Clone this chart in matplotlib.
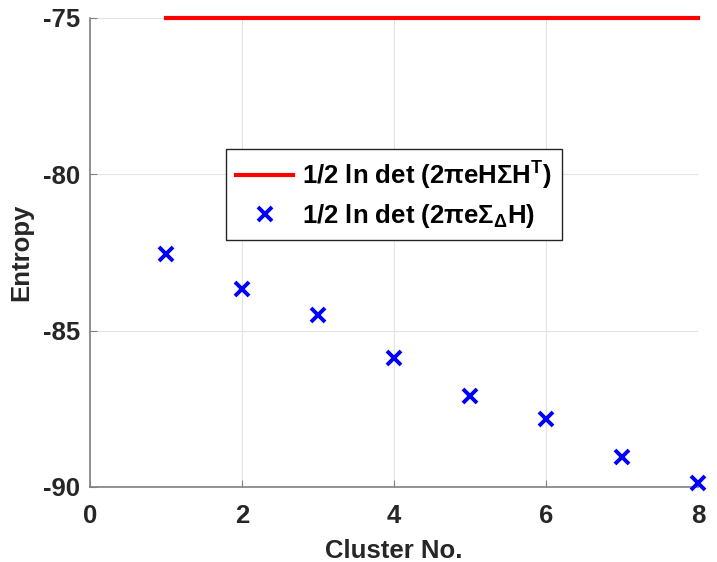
import matplotlib
matplotlib.use('Agg')
import matplotlib.pyplot as plt

# cluster numbers and entropy values
clusters = [1, 2, 3, 4, 5, 6, 7, 8]
entropy_delta = [-82.55, -83.67, -84.50, -85.87, -87.09, -87.82, -89.04, -89.87]
entropy_full = [-75, -75, -75, -75, -75, -75, -75, -75]

xticks = [0, 2, 4, 6, 8]
yticks = [-90, -85, -80, -75]

plt.rcParams['font.family'] = 'Liberation Sans'
plt.rcParams['font.weight'] = 'bold'
plt.rcParams['axes.unicode_minus'] = False
plt.rcParams['mathtext.fontset'] = 'custom'
plt.rcParams['mathtext.rm'] = 'Liberation Sans:bold'
plt.rcParams['mathtext.it'] = 'Liberation Sans:bold'
plt.rcParams['mathtext.bf'] = 'Liberation Sans:bold'

dark = '#262626'

fig = plt.figure(figsize=(7.17, 5.62), dpi=100)
ax = fig.add_axes([0.1255, 0.1335, 0.848, 0.8345])

ax.plot(clusters, entropy_full, color='red', linewidth=3,
        label=r'1/2 ln det (2$\pi$eH$\Sigma$H$^{\mathbf{T}}$)', clip_on=False, zorder=3)
ax.plot(clusters, entropy_delta, linestyle='none', marker='x', color='blue',
        markersize=10, markeredgewidth=2.8,
        label=r'1/2 ln det (2$\pi$e$\Sigma_{\Delta}$H)', clip_on=False, zorder=3)

ax.set_xlim(0, 8)
ax.set_ylim(-90, -75)
ax.set_xticks(xticks)
ax.set_yticks(yticks)
ax.grid(True, color='#e3e3e3', linewidth=0.8)
ax.set_axisbelow(True)

for side in ['top', 'right']:
    ax.spines[side].set_visible(False)
for side in ['left', 'bottom']:
    ax.spines[side].set_color('#808080')
    ax.spines[side].set_linewidth(1.2)

ax.tick_params(direction='in', length=5, color='#808080', labelcolor=dark,
               labelsize=18.5)
ax.tick_params(axis='x', pad=12)
ax.tick_params(axis='y', pad=7)
for lbl in ax.get_xticklabels() + ax.get_yticklabels():
    lbl.set_fontweight('bold')

ax.set_xlabel('Cluster No.', fontsize=18.5, fontweight='bold', color=dark, labelpad=8)
ax.set_ylabel('Entropy', fontsize=18.5, fontweight='bold', color=dark, labelpad=7)

leg = ax.legend(loc='center', bbox_to_anchor=(0.5, 0.623), fontsize=18.5,
                fancybox=False, framealpha=1, edgecolor='#262626',
                handlelength=2.2, handletextpad=0.35, borderpad=0.4,
                labelspacing=0.4)
leg.get_frame().set_linewidth(1.0)

fig.savefig('out.png', dpi=100)
